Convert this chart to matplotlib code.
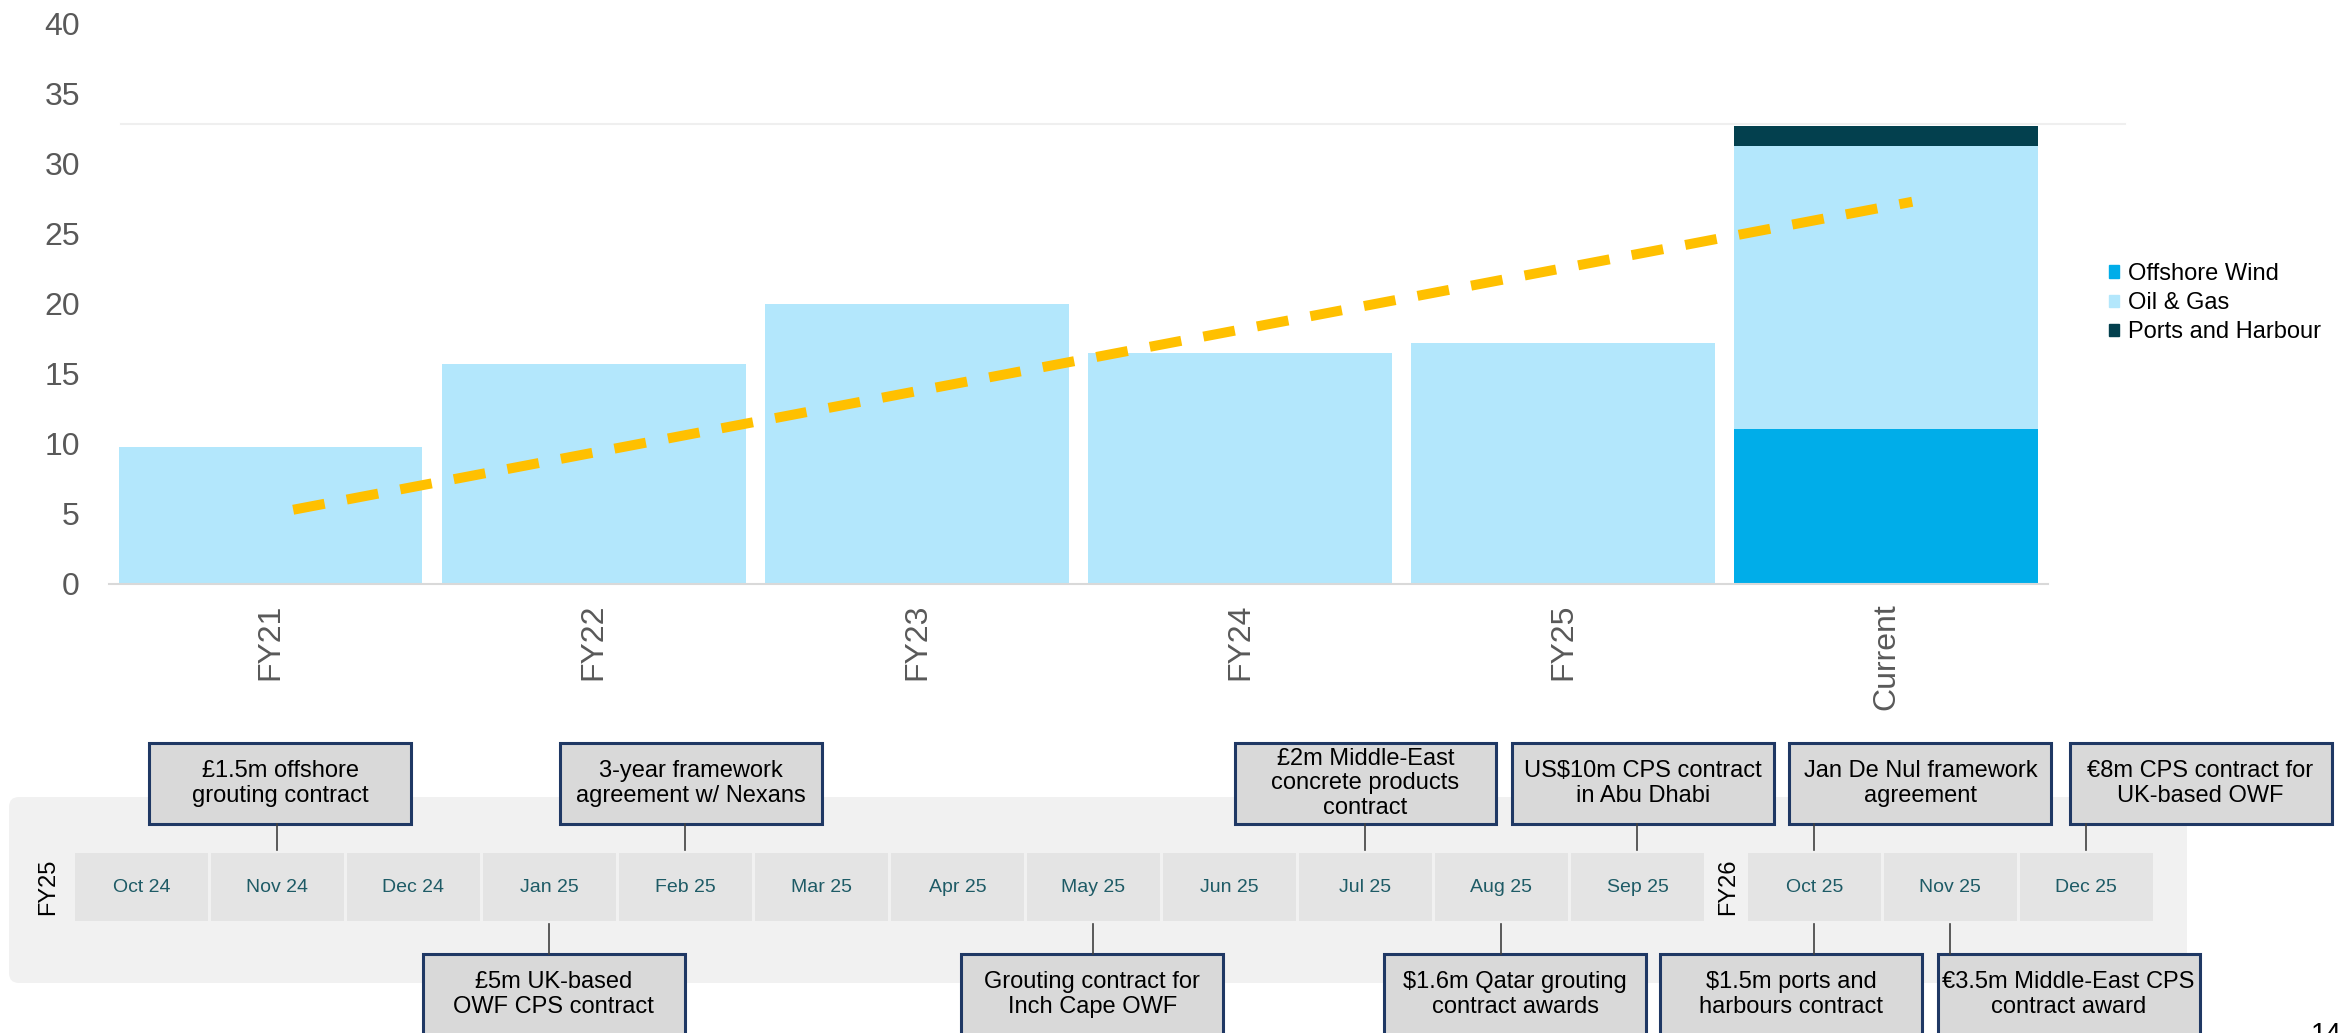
import matplotlib.pyplot as plt
from matplotlib.patches import Rectangle, FancyBboxPatch, Patch
import numpy as np

plt.rcParams['font.family'] = ['Liberation Sans', 'DejaVu Sans']

# Data - order book by year
categories = ['FY21', 'FY22', 'FY23', 'FY24', 'FY25', 'Current']
offshore_wind = np.array([0, 0, 0, 0, 0, 11.1])
oil_gas = np.array([9.8, 15.7, 20.0, 16.5, 17.2, 20.2])
ports_harbour = np.array([0, 0, 0, 0, 0, 1.4])
trend_x = [0.07, 5.08]
trend_y = [5.3, 27.3]
top_rule = 32.85

# Timeline data
months_fy25 = ['Oct 24', 'Nov 24', 'Dec 24', 'Jan 25', 'Feb 25', 'Mar 25',
               'Apr 25', 'May 25', 'Jun 25', 'Jul 25', 'Aug 25', 'Sep 25']
months_fy26 = ['Oct 25', 'Nov 25', 'Dec 25']
event_text = ['£1.5m offshore\ngrouting contract',
              '3-year framework\nagreement w/ Nexans',
              '£2m Middle-East\nconcrete products\ncontract',
              'US$10m CPS contract\nin Abu Dhabi',
              'Jan De Nul framework\nagreement',
              '€8m CPS contract for\nUK-based OWF',
              '£5m UK-based\nOWF CPS contract',
              'Grouting contract for\nInch Cape OWF',
              '$1.6m Qatar grouting\ncontract awards',
              '$1.5m ports and\nharbours contract',
              '€3.5m Middle-East CPS\ncontract award']
event_month = ['Nov 24', 'Feb 25', 'Jul 25', 'Sep 25', 'Oct 25', 'Dec 25',
               'Jan 25', 'May 25', 'Aug 25', 'Oct 25', 'Nov 25']
event_side = ['above'] * 6 + ['below'] * 5

# Colours
c_ow = '#00ADE9'
c_og = '#B3E7FC'
c_ph = '#03404E'
c_trend = '#FFC000'
c_tick = '#595959'

fig = plt.figure(figsize=(23.46, 10.33), dpi=100)

# ---- Timeline (whole-figure axes, x in month slots, y in px from top) ----
ax_t = fig.add_axes([0, 0, 1, 1])
ax_t.set_xlim(-1.0404, 16.2096)
ax_t.set_ylim(1033, 0)
ax_t.axis('off')

slot = {m: i for i, m in enumerate(months_fy25)}
slot.update({m: 12.3 + j for j, m in enumerate(months_fy26)})

ax_t.add_patch(FancyBboxPatch((-0.974, 797), 16.014, 186,
                              boxstyle='round,pad=0,rounding_size=0.0735',
                              mutation_aspect=136, fc='#F1F1F1', ec='none'))

for m in months_fy25 + months_fy26:
    s = slot[m]
    ax_t.add_patch(Rectangle((s - 0.489, 853), 0.978, 68, fc='#E4E4E4', ec='none'))
    ax_t.text(s, 887, m, ha='center', va='center', fontsize=14, color='#1E5B66')

ax_t.text(-0.6875, 887, 'FY25', rotation=90, ha='center', va='center', fontsize=17)
ax_t.text(11.665, 887, 'FY26', rotation=90, ha='center', va='center', fontsize=17)

box_dx = [0.02, 0.04, 0.0, 0.04, 0.78, 0.84, 0.03, -0.01, 0.1, -0.17, 0.87]
for txt, m, side, dx in zip(event_text, event_month, event_side, box_dx):
    s = slot[m]
    bx = s + dx
    if side == 'above':
        top = 743
        ax_t.plot([s, s], [824, 850], color='#404040', lw=1.2)
    else:
        top = 954
        ax_t.plot([s, s], [924, 954], color='#404040', lw=1.2)
    ax_t.add_patch(Rectangle((bx - 0.963, top), 1.926, 81, fc='#D9D9D9',
                             ec='#1F3864', lw=2.2))
    ax_t.text(bx, top + 40.5, txt, ha='center', va='center', fontsize=17,
              linespacing=1.15)

# page number, cut by the bottom edge as in the slide
ax_t.text(15.95, 1022, '14', ha='left', va='top', fontsize=20)

# ---- Main bar chart ----
ax = fig.add_axes([0.04646, 0.4347, 0.8265, 0.5421])
x = np.arange(len(categories))
w = 0.94
ax.bar(x, offshore_wind, width=w, color=c_ow, label='Offshore Wind')
ax.bar(x, oil_gas, width=w, bottom=offshore_wind, color=c_og, label='Oil & Gas')
ax.bar(x, ports_harbour, width=w, bottom=offshore_wind + oil_gas, color=c_ph,
       label='Ports and Harbour')

trend, = ax.plot(trend_x, trend_y, color=c_trend, lw=7.2, dash_capstyle='butt')
trend.set_dashes((3.2, 2.25))

ax.plot([-0.463, 5.738], [top_rule, top_rule], color='#EFEFEF', lw=1.5,
        clip_on=False, zorder=0)

ax.set_xlim(-0.5, 5.5)
ax.set_ylim(0, 40)
ax.set_yticks(np.arange(0, 41, 5))
ax.set_xticks(x)
ax.set_xticklabels(categories, rotation=90)
ax.tick_params(axis='y', length=0, pad=21, labelsize=23, labelcolor=c_tick)
ax.tick_params(axis='x', length=0, pad=14, labelsize=23, labelcolor=c_tick)
for side in ['left', 'right', 'top']:
    ax.spines[side].set_visible(False)
ax.spines['bottom'].set_color('#D9D9D9')
ax.spines['bottom'].set_linewidth(1.5)
ax.patch.set_alpha(0)

handles = [Patch(color=c_ow, label='Offshore Wind'),
           Patch(color=c_og, label='Oil & Gas'),
           Patch(color=c_ph, label='Ports and Harbour')]
fig.legend(handles=handles, loc='upper left', bbox_to_anchor=(2109 / 2346, 1 - 263 / 1033),
           frameon=False, fontsize=17, handlelength=0.42, handleheight=0.42,
           handletextpad=0.38, labelspacing=0.3, borderpad=0, borderaxespad=0)

fig.savefig('out.png', dpi=100)
